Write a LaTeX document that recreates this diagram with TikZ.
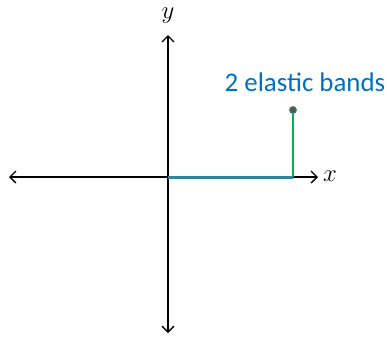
\documentclass[tikz,border=0pt]{standalone}
\usepackage{fontspec}
\setmainfont{Carlito}
\usetikzlibrary{arrows.meta}
\definecolor{labelblue}{RGB}{0,112,192}
\definecolor{tealband}{RGB}{49,133,155}
\definecolor{greenband}{RGB}{0,176,80}
\definecolor{dotfill}{RGB}{79,98,40}
\definecolor{dotline}{RGB}{68,114,196}
\tikzset{
  axis/.style={line width=1.4bp,black,{Straight Barb[length=6bp,width=12bp,line width=1.4bp]}-{Straight Barb[length=6bp,width=12bp,line width=1.4bp]}},
  axlabel/.style={inner sep=0pt,font=\fontsize{30}{32}\selectfont},
}
\begin{document}
\begin{tikzpicture}[x=1bp,y=-1bp]
\useasboundingbox (0,0) rectangle (387,339);
\coordinate (O) at (168,177);
\coordinate (L) at (9,177);
\coordinate (R) at (318,177);
\coordinate (T) at (168,35);
\coordinate (B) at (168,333);
\coordinate (E) at (293,177);
\draw[axis] (L) -- (R);
\draw[axis] (B) -- (T);
\node[axlabel] (xl) at (330,176) {$x$};
\node[axlabel] (yl) at (168,16) {$y$};
\draw[tealband,line width=3bp] (O) -- (E);
\node[circle,fill=dotfill,draw=dotline,line width=0.8bp,inner sep=0pt,minimum size=7bp] (D) at (293,110) {};
\draw[greenband,line width=2.8bp] (E) -- (D.south);
\node[text=labelblue,font=\fontsize{27}{30}\selectfont,inner sep=0pt] (lab) at (305,82) {2 elastic bands};
\end{tikzpicture}
\end{document}
